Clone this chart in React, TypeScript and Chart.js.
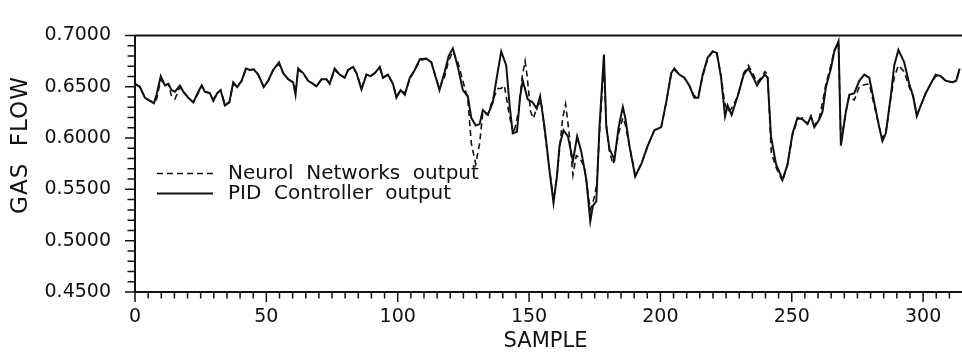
import React, { useEffect, useRef } from "react";
import { Chart, registerables } from "chart.js";

Chart.register(...registerables);

// Solid line: PID Controller output (sample, value)
const pidSample = [0,1.9,3.8,5.7,7.2,8.2,9.8,11.4,12.7,13.9,15.2,17.1,18.4,20.3,22.2,24.1,25.4,26.6,28.5,29.8,31.3,32.6,34.2,35.9,37.4,38.9,40.6,42.2,43.7,45.2,46.9,49.0,50.7,52.6,54.8,56.4,58.3,60.2,61.1,62.1,64.0,65.9,67.8,69.1,71.0,72.9,74.1,76.0,77.9,79.8,81.1,83.0,84.3,86.2,88.1,89.7,91.3,93.2,94.4,96.3,98.2,99.5,101.1,102.7,104.6,106.5,108.4,110.9,112.8,114.7,115.9,117.9,119.4,121.0,122.9,124.8,126.7,128.0,129.7,131.2,132.4,134.3,136.2,137.5,139.4,141.3,142.6,143.8,145.4,146.6,147.6,149.5,151.4,152.9,154.2,155.9,157.5,159.3,160.6,161.6,163.1,164.8,166.7,168.3,169.9,171.8,173.3,174.3,175.6,176.8,178.5,179.4,180.6,182.5,184.1,185.7,186.6,188.2,190.4,192.7,195.2,197.7,200.3,202.2,204.1,205.3,207.2,209.1,211.0,212.9,214.4,216.1,218.0,219.9,221.5,223.1,224.6,225.6,227.1,229.4,231.7,233.5,235.1,236.8,238.3,239.8,240.8,242.1,244.0,246.5,248.4,250.3,252.2,254.1,256.0,257.3,258.6,260.5,261.7,263.0,264.9,266.2,267.8,268.7,270.6,271.9,273.8,275.7,277.6,279.5,281.4,283.3,284.5,285.8,287.7,289.0,290.6,292.8,294.7,296.2,297.6,299.1,301.0,302.9,304.8,306.7,308.6,311.1,312.6,313.9];
const pidValue = [0.6528,0.6497,0.6392,0.6362,0.634,0.6422,0.6603,0.6512,0.6528,0.6467,0.6452,0.6512,0.6452,0.6392,0.6347,0.6452,0.6512,0.6452,0.6437,0.6362,0.6437,0.6467,0.6317,0.6347,0.6543,0.6497,0.6558,0.6678,0.6663,0.667,0.6618,0.6497,0.6558,0.6663,0.6738,0.6633,0.6573,0.6543,0.6422,0.6678,0.6633,0.6558,0.6528,0.6503,0.6573,0.6573,0.6528,0.6678,0.6618,0.6588,0.6663,0.6693,0.6633,0.6473,0.6618,0.6603,0.6633,0.6693,0.6588,0.6618,0.6528,0.6392,0.6467,0.6422,0.6588,0.6663,0.6768,0.6774,0.6738,0.6573,0.6467,0.6648,0.6798,0.6874,0.6693,0.6467,0.6407,0.6197,0.6121,0.6136,0.6272,0.6226,0.6347,0.6558,0.6844,0.6708,0.6317,0.6046,0.6061,0.6407,0.6558,0.6377,0.6347,0.6287,0.6407,0.6106,0.5745,0.5369,0.5625,0.5926,0.6076,0.6016,0.5775,0.6016,0.5865,0.5594,0.5188,0.5339,0.5384,0.6106,0.6813,0.6106,0.5895,0.579,0.6106,0.6302,0.620,0.5926,0.5625,0.5745,0.5926,0.6076,0.6106,0.6347,0.6633,0.6678,0.6618,0.6588,0.6512,0.6392,0.6392,0.6618,0.6784,0.6844,0.6829,0.6588,0.6212,0.6317,0.6226,0.6407,0.6618,0.6678,0.6603,0.6512,0.6573,0.6618,0.6588,0.6016,0.5745,0.5594,0.5745,0.6046,0.6197,0.6182,0.6136,0.6212,0.6106,0.6182,0.6257,0.6497,0.6678,0.6844,0.6943,0.5926,0.6257,0.6422,0.6437,0.6558,0.6618,0.6588,0.6347,0.6106,0.597,0.6046,0.6407,0.6708,0.6859,0.6738,0.6528,0.6407,0.6212,0.6317,0.6437,0.6528,0.6618,0.6603,0.6558,0.6543,0.6558,0.6678];

// Dashed line: Neural Networks output (sample, value)
const nnSample = [0,1.9,3.8,5.7,7.2,8.2,9.8,11.4,12.7,13.9,15.2,17.1,18.4,20.3,22.2,24.1,25.4,26.6,28.5,29.8,31.3,32.6,34.2,35.9,37.4,38.9,40.6,42.2,43.7,45.2,46.9,49.0,50.7,52.6,54.8,56.4,58.3,60.2,61.1,62.1,64.0,65.9,67.8,69.1,71.0,72.9,74.1,76.0,77.9,79.8,81.1,83.0,84.3,86.2,88.1,89.7,91.3,93.2,94.4,96.3,98.2,99.5,101.1,102.7,104.6,106.5,108.4,110.9,112.8,114.7,115.9,117.9,119.4,121.0,122.9,124.8,126.7,128.0,129.7,131.2,132.4,134.3,136.2,138.2,139.4,140.6,142.1,143.4,144.2,146.0,147.4,148.5,149.2,150.6,151.6,153.3,154.6,155.9,157.5,159.3,160.6,161.6,162.8,163.9,165.2,166.7,168.0,169.2,171.1,173.3,174.6,175.8,176.8,178.5,179.4,180.6,182.0,184.1,185.7,186.6,188.2,190.4,192.7,195.2,197.7,200.3,202.2,204.1,205.3,207.2,209.1,211.0,212.9,214.4,216.1,218.0,219.9,221.5,223.1,224.4,225.6,227.1,229.4,231.7,233.5,235.1,236.8,238.3,239.8,240.8,242.2,244.0,246.5,248.4,250.3,252.2,254.1,256.0,257.3,258.6,260.5,261.7,263.0,264.9,266.2,267.8,268.7,270.6,271.9,273.8,275.7,277.6,279.5,281.4,283.3,284.5,285.8,287.7,289.0,290.6,292.8,294.7,296.2,297.6,299.1,301.0,302.9,304.8,306.7,308.6,311.1,312.6,313.9];
const nnValue = [0.6528,0.6497,0.6392,0.6362,0.6352,0.6377,0.6573,0.6512,0.6528,0.6407,0.638,0.6497,0.6452,0.6392,0.6347,0.6437,0.6512,0.6452,0.6437,0.6377,0.6437,0.6467,0.6332,0.6347,0.6528,0.6497,0.6558,0.6663,0.6663,0.667,0.6618,0.6497,0.6558,0.6663,0.6723,0.6633,0.6573,0.6543,0.6437,0.6663,0.6633,0.6558,0.6528,0.6503,0.6573,0.6573,0.6528,0.6663,0.6618,0.6588,0.6663,0.6693,0.6633,0.6488,0.6618,0.6603,0.6633,0.6678,0.6588,0.6618,0.6528,0.6407,0.6467,0.6437,0.6573,0.6663,0.6753,0.6774,0.6738,0.6573,0.6482,0.6603,0.6753,0.6844,0.6738,0.6558,0.6377,0.595,0.5745,0.595,0.625,0.6226,0.6377,0.6482,0.6482,0.6512,0.628,0.611,0.6046,0.6257,0.6603,0.675,0.6618,0.6257,0.619,0.632,0.635,0.6076,0.5745,0.5399,0.5625,0.589,0.6195,0.6332,0.606,0.564,0.583,0.581,0.572,0.530,0.540,0.555,0.6046,0.672,0.6136,0.5865,0.5745,0.6046,0.6197,0.6136,0.5926,0.5640,0.5745,0.5926,0.6076,0.6106,0.6347,0.6618,0.6663,0.6618,0.6588,0.6512,0.6407,0.6407,0.6603,0.6768,0.6844,0.6814,0.6603,0.635,0.6257,0.6287,0.6407,0.6633,0.6708,0.6633,0.6543,0.6588,0.6648,0.6618,0.586,0.5715,0.5579,0.5745,0.6031,0.6182,0.6197,0.6136,0.6212,0.6121,0.6197,0.6347,0.6528,0.6708,0.6859,0.6928,0.5956,0.6257,0.6407,0.637,0.650,0.652,0.6528,0.6317,0.6106,0.6,0.6046,0.6392,0.6588,0.6708,0.6648,0.6498,0.6407,0.6227,0.6317,0.6437,0.6528,0.6603,0.6603,0.6558,0.6543,0.6558,0.6663];

const xMin = 0;
const xMax = 314.8;
const xMajorStep = 50;
const xMinorStep = 5;
const yMin = 0.45;
const yMax = 0.70;
const yMajorStep = 0.05;
const yMinorStep = 0.01;

const legendLabels = ["Neurol  Networks  output", "PID  Controller  output"];
const xTitle = "SAMPLE";
const yTitle = "GAS  FLOW";

const FONT = "'DejaVu Sans', sans-serif";

const framePlugin = {
  id: "frame",
  afterDraw(chart: any) {
    const { ctx, chartArea } = chart;
    const xs = chart.scales.x;
    const ys = chart.scales.y;
    const { left, right, top, bottom } = chartArea;
    ctx.save();
    ctx.strokeStyle = "#111";
    ctx.lineWidth = 2;
    ctx.beginPath();
    ctx.moveTo(left, top);
    ctx.lineTo(right, top);
    ctx.moveTo(left, top);
    ctx.lineTo(left, bottom);
    ctx.lineTo(right, bottom);
    ctx.stroke();

    // ticks
    ctx.lineWidth = 1.5;
    ctx.beginPath();
    for (let v = xMin; v <= xMax + 1e-9; v += xMinorStep) {
      const px = xs.getPixelForValue(v);
      const major = Math.abs(v / xMajorStep - Math.round(v / xMajorStep)) < 1e-6;
      ctx.moveTo(px, bottom);
      ctx.lineTo(px, bottom + (major ? 10 : 6.5));
    }
    const n = Math.round((yMax - yMin) / yMinorStep);
    for (let i = 0; i <= n; i++) {
      const v = yMin + i * yMinorStep;
      const py = ys.getPixelForValue(v);
      const major = i % Math.round(yMajorStep / yMinorStep) === 0;
      ctx.moveTo(left, py);
      ctx.lineTo(left - (major ? 10 : 7.5), py);
    }
    ctx.stroke();

    // legend
    const lx0 = 157, lx1 = 213, tx = 228;
    const ly = [173.5, 193.5];
    ctx.lineWidth = 1.6;
    ctx.setLineDash([6, 4]);
    ctx.beginPath();
    ctx.moveTo(lx0, ly[0]);
    ctx.lineTo(lx1, ly[0]);
    ctx.stroke();
    ctx.setLineDash([]);
    ctx.lineWidth = 2;
    ctx.beginPath();
    ctx.moveTo(lx0, ly[1]);
    ctx.lineTo(lx1, ly[1]);
    ctx.stroke();
    ctx.fillStyle = "#111";
    ctx.font = `20px ${FONT}`;
    ctx.textAlign = "left";
    ctx.textBaseline = "middle";
    ctx.fillText(legendLabels[0], tx, ly[0]);
    ctx.fillText(legendLabels[1], tx, ly[1]);

    // axis titles
    ctx.font = `21px ${FONT}`;
    ctx.textAlign = "center";
    ctx.textBaseline = "middle";
    ctx.fillText(xTitle, (left + right) / 2 - 3, 342);
    ctx.save();
    ctx.translate(21, 145);
    ctx.rotate(-Math.PI / 2);
    ctx.font = `23px ${FONT}`;
    try { (ctx as any).letterSpacing = "1px"; } catch (e) {}
    ctx.fillText(yTitle, 0, 0);
    ctx.restore();
    ctx.restore();
  },
};

export default function App() {
  const ref = useRef<HTMLCanvasElement | null>(null);
  useEffect(() => {
    if (!ref.current) return;
    const chart = new Chart(ref.current, {
      type: "line",
      data: {
        datasets: [
          {
            label: legendLabels[0],
            data: nnSample.map((x, i) => ({ x, y: nnValue[i] })),
            borderColor: "#111",
            borderWidth: 1.6,
            borderDash: [6, 4],
            pointRadius: 0,
            tension: 0,
            fill: false,
          },
          {
            label: legendLabels[1],
            data: pidSample.map((x, i) => ({ x, y: pidValue[i] })),
            borderColor: "#111",
            borderWidth: 2,
            pointRadius: 0,
            tension: 0,
            fill: false,
          },
        ],
      },
      options: {
        animation: false,
        responsive: false,
        devicePixelRatio: 1,
        layout: { padding: { top: 16, left: 0, right: 0, bottom: 0 } },
        plugins: { legend: { display: false }, tooltip: { enabled: false } },
        scales: {
          x: {
            type: "linear",
            min: xMin,
            max: xMax,
            grid: { display: false, drawTicks: false },
            border: { display: false },
            ticks: {
              stepSize: xMajorStep,
              includeBounds: false,
              padding: 14,
              color: "#111",
              font: { family: FONT, size: 19 },
              maxRotation: 0,
              autoSkip: false,
              callback: (v: any) => String(v),
            },
            afterFit: (s: any) => {
              s.height = 65;
            },
          },
          y: {
            type: "linear",
            min: yMin,
            max: yMax,
            grid: { display: false, drawTicks: false },
            border: { display: false },
            ticks: {
              stepSize: yMajorStep,
              includeBounds: false,
              padding: 24,
              color: "#111",
              font: { family: FONT, size: 19 },
              callback: (v: any) => Number(v).toFixed(4),
            },
            afterFit: (s: any) => {
              s.width = 135;
            },
          },
        },
      },
      plugins: [framePlugin],
    });
    return () => chart.destroy();
  }, []);
  return (
    <div style={{ position: "absolute", left: 0, top: 0, width: 962, height: 357, background: "#fff" }}>
      <canvas ref={ref} width={962} height={357} />
    </div>
  );
}
